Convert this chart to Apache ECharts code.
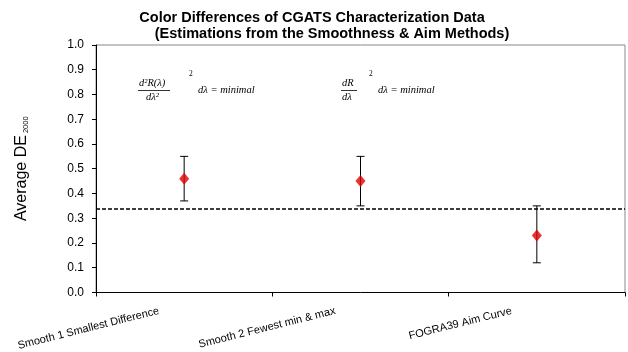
<!DOCTYPE html>
<html>
<head>
<meta charset="utf-8">
<script src="https://cdn.jsdelivr.net/npm/echarts@6/dist/echarts.min.js"></script>
<style>
  html, body { margin: 0; padding: 0; background: #fff; }
  #chart { width: 628px; height: 352px; }
</style>
</head>
<body>
<div id="chart"></div>
<script>
// Methods compared
const categories = ['Smooth 1 Smallest Difference', 'Smooth 2 Fewest min & max', 'FOGRA39 Aim Curve'];
// Average DE2000 per method
const meanDE = [0.46, 0.45, 0.23];
// Error bar ends (low / high)
const lowDE = [0.37, 0.35, 0.12];
const highDE = [0.55, 0.55, 0.35];
// Overall reference level (dashed line)
const referenceDE = 0.345;

const chart = echarts.init(document.getElementById('chart'), null, { renderer: 'canvas' });

const sansFont = '"Liberation Sans", Arial, sans-serif';
const serifFont = '"Liberation Serif", "Times New Roman", serif';
const eqFont = 'italic 10.5px ' + serifFont;

const option = {
  animation: false,
  backgroundColor: '#fff',
  grid: { left: 96, right: 3, top: 45, bottom: 57, show: true, borderColor: '#888', borderWidth: 1 },
  graphic: [
    { type: 'text', x: 312, y: 10, style: { text: 'Color Differences of CGATS Characterization Data', font: 'bold 14.5px ' + sansFont, fill: '#000', textAlign: 'center' } },
    { type: 'text', x: 332, y: 26, style: { text: '(Estimations from the Smoothness & Aim Methods)', font: 'bold 14.5px ' + sansFont, fill: '#000', textAlign: 'center' } },
    // smoothness criterion: second derivative
    { type: 'text', x: 139, y: 78, style: { text: 'd\u00B2R(\u03BB)', font: eqFont, fill: '#000' } },
    { type: 'line', shape: { x1: 138, y1: 90.5, x2: 170, y2: 90.5 }, style: { stroke: '#000', lineWidth: 0.8 } },
    { type: 'text', x: 146, y: 92, style: { text: 'd\u03BB\u00B2', font: eqFont, fill: '#000' } },
    { type: 'text', x: 189, y: 70, style: { text: '2', font: '7.5px ' + serifFont, fill: '#000' } },
    { type: 'text', x: 198, y: 85, style: { text: 'd\u03BB = minimal', font: eqFont, fill: '#000' } },
    // smoothness criterion: first derivative
    { type: 'text', x: 342, y: 78, style: { text: 'dR', font: eqFont, fill: '#000' } },
    { type: 'line', shape: { x1: 341, y1: 90.5, x2: 357, y2: 90.5 }, style: { stroke: '#000', lineWidth: 0.8 } },
    { type: 'text', x: 342, y: 92, style: { text: 'd\u03BB', font: eqFont, fill: '#000' } },
    { type: 'text', x: 369, y: 70, style: { text: '2', font: '7.5px ' + serifFont, fill: '#000' } },
    { type: 'text', x: 378, y: 85, style: { text: 'd\u03BB = minimal', font: eqFont, fill: '#000' } }
  ],
  xAxis: {
    type: 'category',
    data: categories,
    boundaryGap: true,
    axisLine: { lineStyle: { color: '#000', width: 1 } },
    axisTick: { show: true, length: 4, lineStyle: { color: '#000' } },
    axisLabel: {
      rotate: 14,
      interval: 0,
      margin: 12,
      color: '#000',
      fontSize: 11,
      fontFamily: sansFont,
      padding: [0, 26, 0, 0]
    },
    splitLine: { show: false }
  },
  yAxis: {
    type: 'value',
    min: 0, max: 1, interval: 0.1,
    name: '{a|Average DE}{s|2000}',
    nameLocation: 'middle',
    nameRotate: 90,
    nameGap: 66,
    nameTextStyle: {
      rich: {
        a: { fontSize: 16, fontFamily: sansFont, color: '#000' },
        s: { fontSize: 7.5, fontFamily: sansFont, color: '#000', verticalAlign: 'bottom', padding: [7, 0, 0, 2] }
      }
    },
    axisLine: { show: true, lineStyle: { color: '#000', width: 1 } },
    axisTick: { show: true, length: 4, lineStyle: { color: '#000' } },
    axisLabel: { color: '#000', fontSize: 12, fontFamily: sansFont, margin: 12, formatter: v => v.toFixed(1) },
    splitLine: { show: false }
  },
  series: [
    {
      type: 'custom',
      z: 3,
      renderItem: function (params, api) {
        const i = api.value(0);
        const top = api.coord([i, api.value(2)]);
        const bot = api.coord([i, api.value(1)]);
        const cap = 4;
        const st = { stroke: '#000', lineWidth: 1 };
        return {
          type: 'group',
          children: [
            { type: 'line', shape: { x1: top[0], y1: top[1], x2: bot[0], y2: bot[1] }, style: st },
            { type: 'line', shape: { x1: top[0] - cap, y1: top[1], x2: top[0] + cap, y2: top[1] }, style: st },
            { type: 'line', shape: { x1: bot[0] - cap, y1: bot[1], x2: bot[0] + cap, y2: bot[1] }, style: st }
          ]
        };
      },
      data: categories.map((c, i) => [i, lowDE[i], highDE[i]])
    },
    {
      type: 'scatter',
      z: 4,
      symbol: 'diamond',
      symbolSize: [10, 12],
      itemStyle: { color: '#e00000' },
      data: meanDE.map((v, i) => [i, v]),
      markLine: {
        silent: true,
        symbol: 'none',
        label: { show: false },
        lineStyle: { color: '#000', type: [4, 2], width: 1.5 },
        data: [{ yAxis: referenceDE }]
      }
    }
  ]
};

chart.setOption(option);
</script>
</body>
</html>
